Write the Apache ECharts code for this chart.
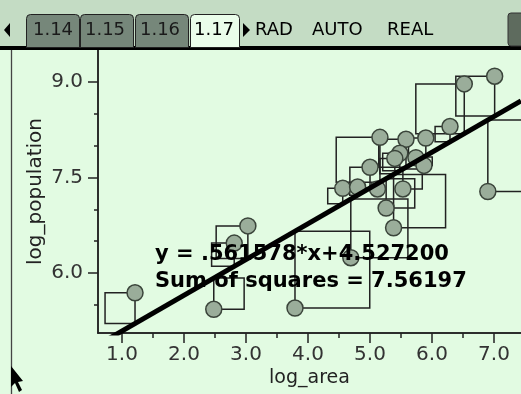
<!DOCTYPE html>
<html><head><meta charset="utf-8">
<script src="https://cdn.jsdelivr.net/npm/echarts@6/dist/echarts.min.js"></script>
<style>html,body{margin:0;padding:0;background:#e2fbe2;overflow:hidden}#c{width:521px;height:394px}</style>
</head><body><div id="c"></div>
<script>
const logArea = [1.21, 2.48, 2.81, 3.03, 3.79, 4.56, 4.80, 5.12, 5.00, 5.16, 5.58, 5.90, 6.29, 6.52, 7.01, 6.90, 5.48, 5.40, 5.74, 5.87, 5.53, 5.26, 5.38, 4.69];
const logPop  = [5.69, 5.43, 6.47, 6.74, 5.45, 7.33, 7.35, 7.32, 7.66, 8.13, 8.10, 8.12, 8.30, 8.97, 9.09, 7.28, 7.88, 7.80, 7.81, 7.69, 7.32, 7.02, 6.71, 6.24];
const slope = 0.561578;
const intercept = 4.527200;
const sumSquares = "7.56197";
const xRange = [0.613, 7.435];
const yRange = [5.058, 9.502];
const xMajorTicks = [1, 2, 3, 4, 5, 6, 7];
const xMinorTicks = [1.5, 2.5, 3.5, 4.5, 5.5, 6.5];
const yMajorTicks = [6.0, 7.5, 9.0];
const yMinorTicks = [5.5, 6.5, 7.0, 8.0, 8.5];
const tabLabels = ["1.14", "1.15", "1.16", "1.17"];
const modeWords = ["RAD", "AUTO", "REAL"];
const xName = "log_area";
const yName = "log_population";

const chart = echarts.init(document.getElementById('c'), null, {renderer: 'canvas'});
const pts = logArea.map((x, i) => [x, logPop[i]]);
const FONT = 'DejaVu Sans';
const AX = '#222';

function axisBase(extra) {
  return Object.assign({
    type: 'value', splitLine: {show: false}, nameMoveOverlap: false,
    axisLine: {show: true, lineStyle: {color: AX, width: 1.5}}
  }, extra);
}

const tabX = [[26, 80], [80, 134], [135, 189], [190, 240]];
const tabCenters = [53, 105, 160, 214];
const wordX = [255, 312, 387];

const graphics = [
  {type: 'rect', shape: {x: 0, y: 0, width: 521, height: 46}, style: {fill: '#c4dcc4'}, z: 10},
  {type: 'rect', shape: {x: 0, y: 46, width: 521, height: 4}, style: {fill: '#000'}, z: 10},
  {type: 'polygon', shape: {points: [[10, 23], [10, 37], [4, 30]]}, style: {fill: '#000'}, z: 10},
  {type: 'polygon', shape: {points: [[243, 23], [243, 37], [250, 30]]}, style: {fill: '#000'}, z: 10},
  {type: 'rect', shape: {x: 508, y: 13, width: 20, height: 33, r: 3}, style: {fill: '#5e6b5e', stroke: '#333', lineWidth: 1}, z: 10},
  {type: 'line', shape: {x1: 11.5, y1: 50, x2: 11.5, y2: 394}, style: {stroke: '#444', lineWidth: 1.3}, z: 10},
  {type: 'polygon', shape: {points: [[11, 366], [11, 387], [15, 383], [19, 392], [22, 390], [18, 382], [23, 381]]}, style: {fill: '#000'}, z: 10},
  {type: 'text', x: 155, y: 255, z: 30, style: {text: 'y = ' + slope.toFixed(6).replace(/^0/, '') + '*x+' + intercept.toFixed(6), font: 'bold 21px ' + FONT, fill: '#000', textVerticalAlign: 'middle'}},
  {type: 'text', x: 155, y: 282, z: 30, style: {text: 'Sum of squares = ' + sumSquares, font: 'bold 21px ' + FONT, fill: '#000', textVerticalAlign: 'middle'}}
];
tabLabels.forEach((t, i) => {
  const active = i === tabLabels.length - 1;
  graphics.push({type: 'rect', z: 11, shape: {x: tabX[i][0] + 0.5, y: 14.5, width: tabX[i][1] - tabX[i][0] - 1, height: 33, r: [4, 4, 0, 0]},
    style: {fill: active ? '#eafdea' : '#76877a', stroke: '#222', lineWidth: 1}});
  graphics.push({type: 'text', z: 12, x: tabCenters[i], y: 30, style: {text: t, font: '18px ' + FONT, fill: active ? '#000' : '#1a1a1a', textAlign: 'center', textVerticalAlign: 'middle'}});
});
modeWords.forEach((w, i) => {
  graphics.push({type: 'text', z: 12, x: wordX[i], y: 30, style: {text: w, font: '18px ' + FONT, fill: '#000', textVerticalAlign: 'middle'}});
});

chart.setOption({
  animation: false,
  backgroundColor: '#e2fbe2',
  grid: {left: 98, right: 0, top: 50, bottom: 61, containLabel: false},
  xAxis: [
    axisBase({min: xRange[0], max: xRange[1], name: xName, nameLocation: 'middle', nameGap: 36,
      nameTextStyle: {fontFamily: FONT, fontSize: 19, color: '#222'},
      axisTick: {customValues: xMajorTicks, length: 10, lineStyle: {color: AX, width: 1.5}},
      axisLabel: {customValues: xMajorTicks, formatter: v => Number(v).toFixed(1), fontFamily: FONT, fontSize: 20, color: '#333', margin: 12}}),
    axisBase({min: xRange[0], max: xRange[1], position: 'bottom',
      axisTick: {customValues: xMinorTicks, length: 5, lineStyle: {color: AX, width: 1.5}},
      axisLabel: {show: false}})
  ],
  yAxis: [
    axisBase({min: yRange[0], max: yRange[1], name: yName, nameLocation: 'middle', nameGap: 52, nameRotate: 90,
      nameTextStyle: {fontFamily: FONT, fontSize: 20, color: '#222'},
      axisTick: {customValues: yMajorTicks, length: 10, lineStyle: {color: AX, width: 1.5}},
      axisLabel: {customValues: yMajorTicks, formatter: v => Number(v).toFixed(1), fontFamily: FONT, fontSize: 20, color: '#333', margin: 15}}),
    axisBase({min: yRange[0], max: yRange[1], position: 'left',
      axisTick: {customValues: yMinorTicks, length: 4, lineStyle: {color: AX, width: 1.5}},
      axisLabel: {show: false}})
  ],
  graphic: graphics,
  series: [
    {type: 'custom', z: 1, data: pts, renderItem: (params, api) => {
      const x = api.value(0), y = api.value(1);
      const yl = slope * x + intercept;
      const r = y - yl;
      const x0 = r >= 0 ? x - r : x;
      const x1 = r >= 0 ? x : x - r;
      const p0 = api.coord([x0, Math.max(y, yl)]);
      const p1 = api.coord([x1, Math.min(y, yl)]);
      return {type: 'rect', shape: {x: p0[0], y: p0[1], width: p1[0] - p0[0], height: p1[1] - p0[1]},
        style: {fill: 'none', stroke: '#222', lineWidth: 1.5}};
    }},
    {type: 'scatter', z: 2, data: pts, symbol: 'circle', symbolSize: 16,
      itemStyle: {color: '#9aad9a', borderColor: '#3a443a', borderWidth: 1.5, opacity: 1}},
    {type: 'line', z: 40, clip: true, symbol: 'none', silent: true,
      data: xRange.map(x => [x, slope * x + intercept]),
      lineStyle: {color: '#000', width: 5}}
  ]
});
</script>
</body></html>
